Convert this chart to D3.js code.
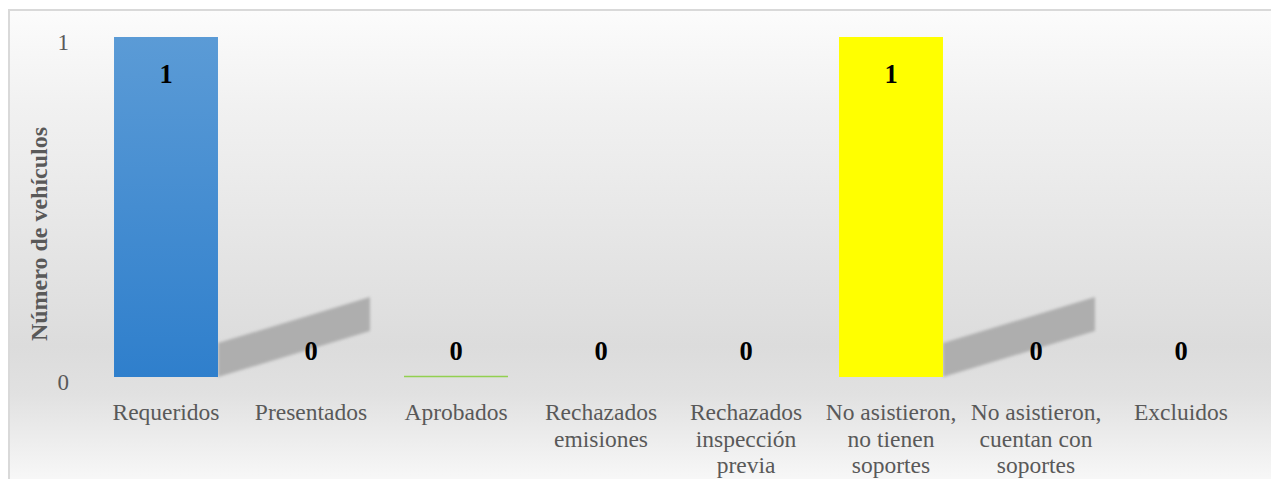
<!DOCTYPE html>
<html>
<head>
<meta charset="utf-8">
<script src="https://cdn.jsdelivr.net/npm/d3@7"></script>
<style>
  html, body { margin: 0; padding: 0; background: #ffffff; }
  svg { display: block; }
  .tick-label { font-family: "Liberation Serif", "Times New Roman", serif; font-size: 23px; fill: #595959; }
  .cat-label { font-family: "Liberation Serif", "Times New Roman", serif; font-size: 23.5px; fill: #595959; }
  .value-label { font-family: "Liberation Serif", "Times New Roman", serif; font-size: 26.5px; font-weight: bold; fill: #000000; }
  .axis-title { font-family: "Liberation Serif", "Times New Roman", serif; font-size: 24px; font-weight: bold; fill: #595959; }
</style>
</head>
<body>
<div id="chart"></div>
<script>
// data
let categories = ['Requeridos', 'Presentados', 'Aprobados', 'Rechazados emisiones',
  'Rechazados inspección previa', 'No asistieron, no tienen soportes',
  'No asistieron, cuentan con soportes', 'Excluidos'];
let categoryLines = [
  ['Requeridos'], ['Presentados'], ['Aprobados'], ['Rechazados', 'emisiones'],
  ['Rechazados', 'inspección', 'previa'], ['No asistieron,', 'no tienen', 'soportes'],
  ['No asistieron,', 'cuentan con', 'soportes'], ['Excluidos']
];
let values = [1, 0, 0, 0, 0, 1, 0, 0];
let barColors = ['url(#blueGrad)', null, '#92d050', null, null, '#ffff00', null, null];
let yTicks = [0, 1];

// Step 1: chart setup
let svgWidth = 1271;
let svgHeight = 479;

let svg = d3.select('#chart')
  .append('svg')
  .attr('width', svgWidth)
  .attr('height', svgHeight);

let defs = svg.append('defs');

// frame background gradient
let bgGrad = defs.append('linearGradient')
  .attr('id', 'bgGrad')
  .attr('x1', 0).attr('y1', 0).attr('x2', 0).attr('y2', 1);
[[0, '#fcfcfc'], [0.2, '#f1f1f1'], [0.42, '#e8e8e8'], [0.7, '#dcdcdc'],
 [0.8, '#e1e1e1'], [1, '#fafafa']].forEach(s => {
  bgGrad.append('stop').attr('offset', s[0]).attr('stop-color', s[1]);
});

let blueGrad = defs.append('linearGradient')
  .attr('id', 'blueGrad')
  .attr('x1', 0).attr('y1', 0).attr('x2', 0).attr('y2', 1);
blueGrad.append('stop').attr('offset', 0).attr('stop-color', '#5b9bd6');
blueGrad.append('stop').attr('offset', 1).attr('stop-color', '#2f7fcc');

defs.append('filter')
  .attr('id', 'softBlur')
  .attr('x', '-10%').attr('y', '-20%').attr('width', '120%').attr('height', '140%')
  .append('feGaussianBlur')
  .attr('stdDeviation', 1.6);

// Step 2: chart frame (runs past the window on right and bottom)
svg.append('rect')
  .attr('x', 9)
  .attr('y', 10)
  .attr('width', 1300)
  .attr('height', 480)
  .attr('fill', 'url(#bgGrad)')
  .attr('stroke', '#d9d9d9')
  .attr('stroke-width', 2);

// Step 3: scales
let xScale = d3.scaleBand()
  .domain(categories)
  .range([93.5, 1253.5])
  .paddingInner(0.283)
  .paddingOuter(0.1415);

let yScale = d3.scaleLinear()
  .domain([0, 1])
  .range([377, 37]);

let chartGroup = svg.append('g');

// Step 4: shadows behind the non-zero bars
chartGroup.selectAll('.shadow')
  .data(categories.filter((c, i) => values[i] > 0))
  .enter()
  .append('path')
  .attr('class', 'shadow')
  .attr('fill', '#aeaeae')
  .attr('filter', 'url(#softBlur)')
  .attr('d', c => {
    let v = values[categories.indexOf(c)];
    let h = yScale(0) - yScale(v);
    let x0 = xScale(c) + xScale.bandwidth();
    let y0 = yScale(0);
    let dx = h * 0.447;
    let dy = h * 0.135;
    let t = h * 0.1;
    return `M${x0},${y0}L${x0 + dx},${y0 - dy}L${x0 + dx},${y0 - dy - t}L${x0},${y0 - t}Z`;
  });

// Step 5: bars
chartGroup.selectAll('.bar')
  .data(categories.filter((c, i) => values[i] > 0))
  .enter()
  .append('rect')
  .attr('class', 'bar')
  .attr('x', c => xScale(c))
  .attr('y', c => yScale(values[categories.indexOf(c)]))
  .attr('width', xScale.bandwidth())
  .attr('height', c => yScale(0) - yScale(values[categories.indexOf(c)]))
  .attr('fill', c => barColors[categories.indexOf(c)]);

// zero bars that still show their outline
chartGroup.selectAll('.zero-bar')
  .data(categories.filter((c, i) => values[i] === 0 && barColors[i]))
  .enter()
  .append('line')
  .attr('class', 'zero-bar')
  .attr('x1', c => xScale(c))
  .attr('x2', c => xScale(c) + xScale.bandwidth())
  .attr('y1', yScale(0) - 0.5)
  .attr('y2', yScale(0) - 0.5)
  .attr('stroke', c => barColors[categories.indexOf(c)])
  .attr('stroke-width', 1.5);

// Step 6: value labels
chartGroup.selectAll('.value-label')
  .data(categories)
  .enter()
  .append('text')
  .attr('class', 'value-label')
  .attr('text-anchor', 'middle')
  .attr('x', c => xScale(c) + xScale.bandwidth() / 2)
  .attr('y', (c, i) => values[i] > 0 ? yScale(values[i]) + 46 : yScale(0) - 17)
  .text((c, i) => values[i]);

// Step 7: y tick labels (no axis line)
chartGroup.selectAll('.tick-label')
  .data(yTicks)
  .enter()
  .append('text')
  .attr('class', 'tick-label')
  .attr('text-anchor', 'end')
  .attr('x', 69)
  .attr('y', d => yScale(d) + 13)
  .text(d => d);

// Step 8: category labels
let catGroup = chartGroup.selectAll('.cat-label')
  .data(categories)
  .enter()
  .append('text')
  .attr('class', 'cat-label')
  .attr('text-anchor', 'middle')
  .attr('x', c => xScale(c) + xScale.bandwidth() / 2)
  .attr('y', 420);

catGroup.selectAll('tspan')
  .data((c, i) => categoryLines[i])
  .enter()
  .append('tspan')
  .attr('x', function() { return d3.select(this.parentNode).attr('x'); })
  .attr('dy', (d, i) => i === 0 ? 0 : 26.5)
  .text(d => d);

// Step 9: y axis title
chartGroup.append('text')
  .attr('class', 'axis-title')
  .attr('transform', `translate(47, ${(yScale(0) + yScale(1)) / 2 + 27}) rotate(-90)`)
  .attr('text-anchor', 'middle')
  .text('Número de vehículos');
</script>
</body>
</html>
